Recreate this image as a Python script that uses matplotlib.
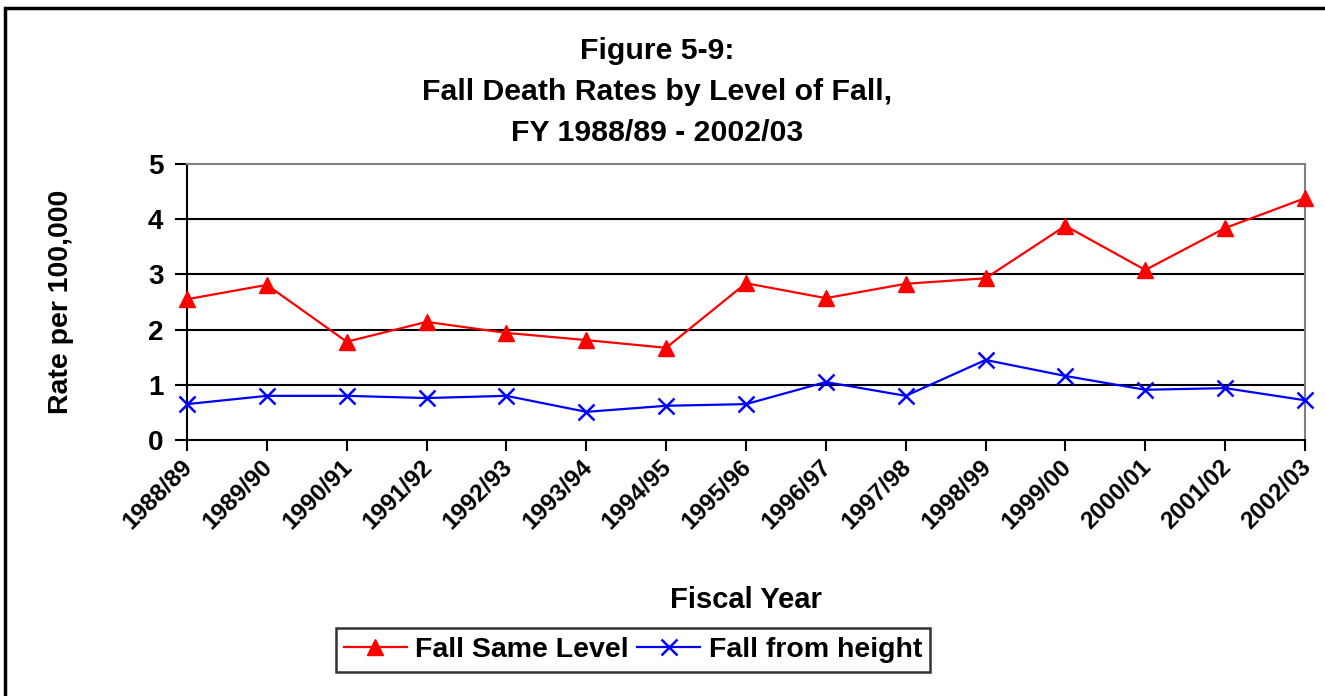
import numpy as np
import matplotlib.pyplot as plt
from matplotlib.patches import Rectangle
from matplotlib.transforms import ScaledTranslation

plt.rcParams['font.family'] = ['Liberation Sans', 'DejaVu Sans']
plt.rcParams['font.weight'] = 'bold'

# Fiscal years and death rates per 100,000
years = ["1988/89", "1989/90", "1990/91", "1991/92", "1992/93", "1993/94",
         "1994/95", "1995/96", "1996/97", "1997/98", "1998/99", "1999/00",
         "2000/01", "2001/02", "2002/03"]
same_level = [2.55, 2.81, 1.78, 2.14, 1.94, 1.81, 1.67, 2.84, 2.57, 2.83,
              2.93, 3.88, 3.08, 3.84, 4.38]
from_height = [0.65, 0.80, 0.80, 0.76, 0.80, 0.51, 0.62, 0.65, 1.05, 0.80,
               1.45, 1.16, 0.91, 0.94, 0.72]

fig = plt.figure(figsize=(13.25, 6.96), dpi=100)
ax = fig.add_axes([187 / 1325, 1 - 440 / 696, (1305 - 187) / 1325, (440 - 164) / 696])

x = np.arange(len(years))
ax.plot(x, same_level, color="red", marker="^", markersize=12, linewidth=1.6,
        label="Fall Same Level", clip_on=False, zorder=4)
ax.plot(x, from_height, color="blue", marker="x", markersize=11, markeredgewidth=1.8,
        linewidth=1.6, label="Fall from height", clip_on=False, zorder=4)

ax.set_xlim(0, len(years) - 1)
ax.set_ylim(0, 5)
ax.set_yticks(range(0, 6))
ax.set_xticks(x)
ax.set_xticklabels(years, rotation=45, ha="right", va="top", rotation_mode="anchor",
                   fontsize=17.5, fontweight="bold")
ax.tick_params(axis="y", labelsize=20, length=9, width=1.5, pad=8, direction="out")
ax.tick_params(axis="x", length=8, width=1.5, pad=0, direction="out")
for lbl in ax.get_yticklabels():
    lbl.set_fontweight("bold")
# shift rotated labels slightly left like the original
shift = ScaledTranslation(-6 / 100, -4 / 100, fig.dpi_scale_trans)
for lbl in ax.get_xticklabels():
    lbl.set_transform(lbl.get_transform() + shift)

# horizontal gridlines
for yv in range(1, 5):
    ax.axhline(yv, color="black", linewidth=1.5, zorder=1)

for s in ["left", "bottom"]:
    ax.spines[s].set_color("black")
    ax.spines[s].set_linewidth(1.5)
for s in ["top", "right"]:
    ax.spines[s].set_color("#808080")
    ax.spines[s].set_linewidth(1.5)

ax.set_xlabel("Fiscal Year", fontsize=21, fontweight="bold")
ax.set_ylabel("Rate per 100,000", fontsize=20.5, fontweight="bold")
ax.xaxis.set_label_coords(0.5, (440 - 586) / 276)
ax.yaxis.set_label_coords((74 - 187) / 1118, 0.5)

fig.text(657 / 1325, 1 - 92 / 696, "Figure 5-9:\nFall Death Rates by Level of Fall,\nFY 1988/89 - 2002/03",
         ha="center", va="center", fontsize=21.8, fontweight="bold", linespacing=1.6)

leg = fig.legend(loc="center", bbox_to_anchor=(633 / 1325, 1 - 650 / 696), ncol=2,
                 frameon=True, fancybox=False, edgecolor="black",
                 handlelength=2.2, handletextpad=0.3, columnspacing=0.3,
                 borderpad=0.3, borderaxespad=0, prop={"weight": "bold", "size": 20.5})
leg.get_frame().set_linewidth(1.8)

# outer chart border (only top and left visible in the reference)
fig.add_artist(Rectangle((5 / 1325, -0.1), 1.2, 1 - 7.5 / 696 + 0.1, transform=fig.transFigure,
                         fill=False, edgecolor="black", linewidth=2.5, clip_on=False))

fig.savefig("out.png", dpi=100)
